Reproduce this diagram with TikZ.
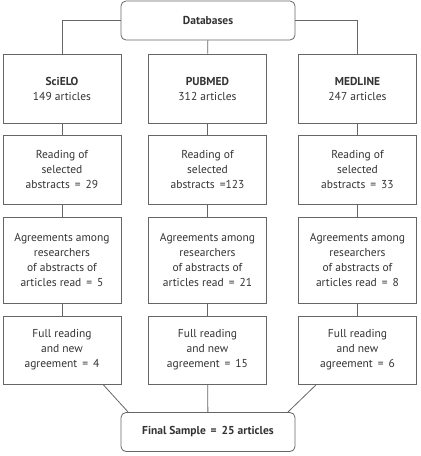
\documentclass[tikz,border=0pt]{standalone}
\usepackage{fontspec}
\setmainfont{PT Sans}
\usetikzlibrary{positioning}
\definecolor{boxline}{gray}{0.4}
\definecolor{boxtext}{gray}{0.2}
\tikzset{
  box/.style={draw=boxline, line width=0.8pt, minimum width=118pt, inner sep=2pt,
    align=center, text=boxtext, font=\fontsize{11.5}{15}\selectfont},
  endbox/.style={box, rounded corners=5pt, minimum width=174pt, minimum height=39pt},
  link/.style={draw=boxline, line width=0.8pt}
}
\begin{document}
\begin{tikzpicture}[x=1pt,y=-1pt]
  \useasboundingbox (0,0) rectangle (421,456);

  \node[endbox] (db) at (208,20.5) {\textbf{Databases}};

  % databases
  \node[box, minimum height=69pt] (sci) at (62,88.5) {\textbf{SciELO}\\149 articles};
  \node[box, minimum height=69pt] (pub) at (207.5,88.5) {\textbf{PUBMED}\\312 articles};
  \node[box, minimum height=69pt] (med) at (357.5,88.5) {\textbf{MEDLINE}\\247 articles};

  % abstracts
  \node[box, minimum height=69pt] (rsci) at (62,169.5) {Reading of\\selected\\abstracts \,=\, 29};
  \node[box, minimum height=69pt] (rpub) at (207.5,169.5) {Reading of\\selected\\abstracts \,=123};
  \node[box, minimum height=69pt] (rmed) at (357.5,169.5) {Reading of\\selected\\abstracts \,=\, 33};

  % agreements
  \node[box, minimum height=86pt] (asci) at (62,260) {Agreements among\\researchers\\of abstracts of\\articles read \,=\, 5};
  \node[box, minimum height=86pt] (apub) at (207.5,260) {Agreements among\\researchers\\of abstracts of\\articles read \,=\, 21};
  \node[box, minimum height=86pt] (amed) at (357.5,260) {Agreements among\\researchers\\of abstracts of\\articles read \,=\, 8};

  % full reading
  \node[box, minimum height=68pt] (fsci) at (62,350) {Full reading\\and new\\agreement \,=\, 4};
  \node[box, minimum height=68pt] (fpub) at (207.5,350) {Full reading\\and new\\agreement \,=\, 15};
  \node[box, minimum height=68pt] (fmed) at (357.5,350) {Full reading\\and new\\agreement \,=\, 6};

  \node[endbox] (fin) at (208,432) {\textbf{Final Sample \,=\, 25 articles}};

  \draw[link] (db.west) -| (sci.north);
  \draw[link] (db) -- (pub);
  \draw[link] (db.east) -| (med.north);

  \draw[link] (sci) -- (rsci) -- (asci) -- (fsci);
  \draw[link] (pub) -- (rpub) -- (apub) -- (fpub);
  \draw[link] (med) -- (rmed) -- (amed) -- (fmed);

  \draw[link] (fsci.-40) -- (fin.166);
  \draw[link] (fpub) -- (fin);
  \draw[link] (fmed.-140) -- (fin.14);
\end{tikzpicture}
\end{document}
